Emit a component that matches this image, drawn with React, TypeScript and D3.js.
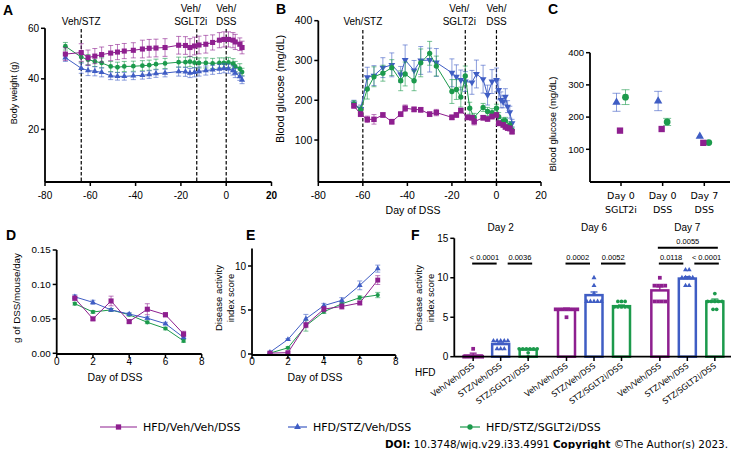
import React from "react";
import * as d3 from "d3";

const ARIAL = "'Liberation Sans', Arial, sans-serif";
const VERD = "'DejaVu Sans', Verdana, sans-serif";
const PURPLE = "#8E1F8F";
const BLUE = "#3F5DC4";
const GREEN = "#1C9A4C";

// ---------- Panel A: body weight ----------
const aDays = [-71, -64, -61, -58, -55, -51, -48, -45, -41, -37, -34, -31, -27, -21, -18, -16, -14, -12, -9, -6, -3, -1, 1, 3, 4, 6, 7];
const aPurple = [49.8, 50.4, 48.4, 49.0, 49.6, 50.2, 50.6, 51.0, 51.3, 51.8, 52.1, 52.2, 52.4, 53.3, 53.2, 52.4, 53.0, 53.4, 53.7, 54.4, 55.3, 55.6, 55.6, 55.3, 54.6, 53.7, 52.4];
const aPurpleSem = [2.5, 3.5, 3, 3, 3, 3, 3, 3, 3, 3.5, 3.5, 3.5, 3.5, 3.5, 3.5, 3.5, 3.5, 3.5, 3.5, 3, 3, 3, 3, 3, 3, 2.5, 2.5];
const aGreen = [52.9, 48.6, 47.6, 46.9, 46.3, 44.9, 44.6, 44.9, 45.0, 45.2, 45.4, 45.8, 46.1, 46.6, 46.6, 46.8, 46.4, 46.3, 46.3, 46.1, 46.3, 46.3, 46.5, 46.0, 44.9, 44.0, 42.7];
const aGreenSem = [1.5, 2, 2, 2, 2, 2, 2, 2, 2, 2, 2, 2, 2, 2, 2, 2, 2, 2, 2, 2, 2, 2, 2, 2, 2, 2, 1.5];
const aBlue = [48.4, 44.2, 43.3, 43.0, 42.6, 41.2, 41.0, 41.0, 41.2, 41.4, 41.7, 42.1, 42.3, 42.9, 42.8, 42.3, 42.6, 42.9, 43.3, 43.6, 43.9, 44.2, 44.0, 43.3, 42.3, 40.9, 39.6];
const aBlueSem = [1.5, 2, 2, 1.8, 1.8, 1.5, 1.5, 1.5, 1.5, 1.5, 1.5, 1.5, 1.5, 1.8, 1.8, 1.8, 1.8, 1.8, 1.8, 1.8, 1.8, 1.8, 1.8, 1.8, 1.8, 1.5, 1.5];
const aXTicks = [-80, -60, -40, -20, 0, 20];
const aYTicks = [20, 40, 60];
const aEventDays = [-64, -13, 0];
const eventLabels = [["Veh/STZ"], ["Veh/", "SGLT2i"], ["Veh/", "DSS"]];

// ---------- Panel B: blood glucose over time ----------
const bPurpleDays = [-64, -61, -58, -55, -51, -47, -43, -41, -37, -34, -30, -27, -20, -18, -16, -13, -11, -10, -6, -4, -2, 0, 1, 3, 4, 5, 6, 7];
const bPurple = [186, 165, 152, 152, 163, 146, 165, 180, 177, 176, 165, 169, 157, 163, 174, 157, 156, 146, 156, 153, 159, 163, 142, 138, 133, 130, 129, 121];
const bPurpleSem = [6, 6, 8, 12, 6, 6, 6, 8, 6, 6, 6, 8, 6, 6, 6, 6, 6, 8, 6, 6, 6, 6, 6, 6, 6, 6, 6, 6];
const bGreenDays = [-64, -61, -58, -55, -51, -47, -43, -41, -37, -34, -30, -27, -20, -18, -16, -14, -12, -10, -6, -4, -2, 0, 1, 3, 4, 6, 7];
const bGreen = [191, 175, 228, 259, 268, 282, 249, 266, 249, 294, 318, 286, 222, 227, 208, 261, 180, 157, 182, 172, 169, 180, 159, 148, 149, 138, 125];
const bGreenSem = [8, 10, 25, 25, 20, 20, 25, 30, 25, 35, 30, 25, 30, 25, 25, 25, 15, 10, 10, 10, 10, 10, 10, 8, 8, 8, 8];
const bBlueDays = [-64, -61, -58, -55, -51, -47, -43, -41, -37, -34, -30, -27, -20, -18, -16, -14, -11, -9, -6, -4, -2, 0, 1, 2, 3, 4, 5, 6, 7];
const bBlue = [192, 178, 258, 262, 282, 289, 265, 301, 275, 300, 301, 295, 269, 259, 251, 247, 245, 266, 253, 213, 247, 251, 226, 201, 196, 209, 184, 170, 142];
const bBlueSem = [8, 10, 25, 25, 25, 30, 20, 38, 25, 35, 30, 35, 35, 30, 25, 25, 30, 35, 35, 25, 30, 30, 25, 20, 15, 20, 15, 15, 10];
const bXTicks = [-80, -60, -40, -20, 0, 20];
const bYTicks = [100, 200, 300, 400];
const bEventDays = [-60, -14, 0];

// ---------- Panel C ----------
const cCats = ["Day 0|SGLT2i", "Day 0|DSS", "Day 7|DSS"];
const cPurple = [158, 163, 120];
const cBlue = [246, 250, 140];
const cBlueSem = [28, 30, 0];
const cGreen = [262, 185, 121];
const cGreenSem = [23, 11, 0];
const cYTicks = [100, 200, 300, 400];

// ---------- Panel D ----------
const dDays = [1, 2, 3, 4, 5, 6, 7];
const dPurple = [0.080, 0.050, 0.076, 0.046, 0.064, 0.056, 0.028];
const dPurpleSem = [0.003, 0.002, 0.007, 0.002, 0.008, 0.003, 0.004];
const dBlue = [0.082, 0.074, 0.063, 0.057, 0.051, 0.043, 0.023];
const dBlueSem = [0.003, 0.003, 0.002, 0.002, 0.002, 0.002, 0.002];
const dGreen = [0.072, 0.060, 0.063, 0.056, 0.045, 0.036, 0.018];
const dGreenSem = [0.002, 0.002, 0.002, 0.002, 0.002, 0.002, 0.002];
const dXTicks = [0, 2, 4, 6, 8];
const dYTicks = [0, 0.05, 0.1, 0.15];

// ---------- Panel E ----------
const eDays = [1, 2, 3, 4, 5, 6, 7];
const ePurple = [0.1, 0.15, 3.3, 5.1, 5.4, 5.8, 8.4];
const ePurpleSem = [0.1, 0.1, 0.3, 0.3, 0.3, 0.2, 0.5];
const eBlue = [0.2, 1.65, 4.0, 5.5, 6.1, 7.8, 9.7];
const eBlueSem = [0.1, 0.1, 0.5, 0.25, 0.3, 0.5, 0.4];
const eGreen = [0.1, 0.7, 3.2, 4.8, 5.7, 6.4, 6.7];
const eGreenSem = [0.1, 0.1, 0.6, 0.2, 0.2, 0.2, 0.3];
const eXTicks = [0, 2, 4, 6, 8];
const eYTicks = [0, 5, 10];

// ---------- Panel F ----------
const fDays = ["Day 2", "Day 6", "Day 7"];
const fGroups = ["Veh/Veh/DSS", "STZ/Veh/DSS", "STZ/SGLT2i/DSS"];
const fMeans = [[0.15, 1.6, 0.9], [6.0, 7.8, 6.4], [8.4, 9.9, 7.0]];
const fSems = [[0.3, 0.15, 0.12], [0.15, 0.4, 0.15], [0.45, 0.25, 0.3]];
const fPoints = [
  [[0, 0, 0, 0, 0, 0, 1], [2, 2, 2, 2, 2, 1, 1, 1], [1, 1, 1, 1, 1, 1, 0.5, 0]],
  [[6, 6, 6, 6, 6, 6, 6, 5], [10, 9, 8, 7, 7, 7, 7, 7], [7, 7, 7, 6.3, 6.3, 6.3, 6.3, 6.3]],
  [[10, 9, 9, 9, 9, 7, 7, 7, 7], [11, 11, 10, 10, 10, 10, 9, 9], [8, 7, 7, 7, 7, 7, 6, 6]],
];
const fSigDay = [0, 0, 1, 1, 2, 2, 2];
const fSigFrom = [0, 1, 0, 1, 0, 1, 0];
const fSigTo = [1, 2, 1, 2, 1, 2, 2];
const fSigLabel = ["< 0.0001", "0.0036", "0.0002", "0.0052", "0.0118", "< 0.0001", "0.0055"];
const fSigLevel = [11.8, 11.8, 11.8, 11.8, 11.8, 11.8, 13.8];
const fYTicks = [0, 5, 10, 15];

// ---------- Legend ----------
const legendLabels = ["HFD/Veh/Veh/DSS", "HFD/STZ/Veh/DSS", "HFD/STZ/SGLT2i/DSS"];

const COLORS = [PURPLE, BLUE, GREEN];
const SHAPES = [d3.symbolSquare, d3.symbolTriangle, d3.symbolCircle];

function sym(type: any, size: number) {
  return d3.symbol().type(type).size(size)() as string;
}

function Series(props: any) {
  const { xs, ys, errs, x, y, color, shape, size, rot = 0, lw = 1, cap = 2.5, errOp = 0.6, dx = 0 } = props;
  const line = d3.line<number>().x((_, i) => x(xs[i]) + dx).y((d) => y(d));
  const p = sym(shape, size);
  return (
    <g>
      <path d={line(ys) || ""} fill="none" stroke={color} strokeWidth={lw} />
      {errs &&
        ys.map((v: number, i: number) =>
          errs[i] > 0 ? (
            <g key={"e" + i} stroke={color} strokeOpacity={errOp} strokeWidth={1}>
              <line x1={x(xs[i]) + dx} x2={x(xs[i]) + dx} y1={y(v - errs[i])} y2={y(v + errs[i])} />
              <line x1={x(xs[i]) + dx - cap} x2={x(xs[i]) + dx + cap} y1={y(v + errs[i])} y2={y(v + errs[i])} />
              <line x1={x(xs[i]) + dx - cap} x2={x(xs[i]) + dx + cap} y1={y(v - errs[i])} y2={y(v - errs[i])} />
            </g>
          ) : null
        )}
      {ys.map((v: number, i: number) => (
        <path key={i} d={p} transform={`translate(${x(xs[i]) + dx},${y(v)}) rotate(${rot})`} fill={color} />
      ))}
    </g>
  );
}

function LeftAxis(props: any) {
  const { x, y, ticks, top, bottom, fmt, fs = 10, font = ARIAL } = props;
  return (
    <g>
      <line x1={x} x2={x} y1={top} y2={bottom} stroke="#000" strokeWidth={1.8} />
      {ticks.map((t: number) => (
        <g key={t}>
          <line x1={x - 4} x2={x} y1={y(t)} y2={y(t)} stroke="#000" strokeWidth={1.5} />
          <text x={x - 6} y={y(t)} dy="0.35em" textAnchor="end" fontSize={fs} fontFamily={font}>
            {fmt ? fmt(t) : t}
          </text>
        </g>
      ))}
    </g>
  );
}

function BottomAxis(props: any) {
  const { x, y0, ticks, left, right, fs = 10, font = ARIAL, labelY, boldLast = false } = props;
  return (
    <g>
      <line x1={left} x2={right} y1={y0} y2={y0} stroke="#000" strokeWidth={1.8} />
      {ticks.map((t: number, i: number) => (
        <g key={t}>
          <line x1={x(t)} x2={x(t)} y1={y0} y2={y0 + 4} stroke="#000" strokeWidth={1.5} />
          <text
            x={x(t)}
            y={labelY}
            textAnchor="middle"
            fontSize={fs}
            fontFamily={font}
            fontWeight={boldLast && i === ticks.length - 1 ? "bold" : "normal"}
          >
            {t}
          </text>
        </g>
      ))}
    </g>
  );
}

function Events(props: any) {
  const { x, days, top, bottom } = props;
  return (
    <g>
      {days.map((d: number, i: number) => {
        const lines = eventLabels[i];
        const dx = i === 1 ? -6 : 0;
        return (
          <g key={d}>
            <line x1={x(d)} x2={x(d)} y1={top} y2={bottom} stroke="#000" strokeWidth={1.2} strokeDasharray="3.5,2" />
            {lines.map((l: string, j: number) => (
              <text key={j} x={x(d) + dx} y={25 - (lines.length - 1 - j) * 13} textAnchor="middle" fontSize={10} fontFamily={ARIAL}>
                {l}
              </text>
            ))}
          </g>
        );
      })}
    </g>
  );
}

function PanelLabel({ x, y, t }: any) {
  return (
    <text x={x} y={y} fontSize={14} fontWeight="bold" fontFamily={ARIAL}>
      {t}
    </text>
  );
}

function RotTitle({ x, y, lines, fs = 10, gap = 12 }: any) {
  return (
    <g>
      {lines.map((l: string, i: number) => (
        <text key={i} transform={`translate(${x + i * gap},${y}) rotate(-90)`} textAnchor="middle" fontSize={fs} fontFamily={ARIAL}>
          {l}
        </text>
      ))}
    </g>
  );
}

function PanelA() {
  const x = d3.scaleLinear().domain([-80, 20]).range([45, 271.5]);
  const y = d3.scaleLinear().domain([0, 60]).range([180, 28.3]);
  return (
    <g>
      <PanelLabel x={3} y={15} t="A" />
      <Events x={x} days={aEventDays} top={29} bottom={182} />
      <Series xs={aDays} ys={aGreen} errs={aGreenSem} x={x} y={y} color={GREEN} shape={d3.symbolCircle} size={18} />
      <Series xs={aDays} ys={aBlue} errs={aBlueSem} x={x} y={y} color={BLUE} shape={d3.symbolTriangle} size={16} />
      <Series xs={aDays} ys={aPurple} errs={aPurpleSem} x={x} y={y} color={PURPLE} shape={d3.symbolSquare} size={26} />
      <LeftAxis x={45} y={y} ticks={aYTicks} top={28.3} bottom={182} />
      <BottomAxis x={x} y0={182} ticks={aXTicks} left={45} right={271.5} labelY={199} boldLast />
      <RotTitle x={17} y={93} lines={["Body weight (g)"]} fs={9} />
    </g>
  );
}

function PanelB() {
  const x = d3.scaleLinear().domain([-80, 20]).range([318.3, 541]);
  const y = d3.scaleLinear().domain([0, 400]).range([179.8, 20.7]);
  return (
    <g>
      <PanelLabel x={276} y={14} t="B" />
      <Events x={x} days={bEventDays} top={30} bottom={182} />
      <Series xs={bBlueDays} ys={bBlue} errs={bBlueSem} x={x} y={y} color={BLUE} shape={d3.symbolTriangle} size={20} rot={180} />
      <Series xs={bGreenDays} ys={bGreen} errs={bGreenSem} x={x} y={y} color={GREEN} shape={d3.symbolCircle} size={22} />
      <Series xs={bPurpleDays} ys={bPurple} errs={bPurpleSem} x={x} y={y} color={PURPLE} shape={d3.symbolSquare} size={30} />
      <LeftAxis x={318.3} y={y} ticks={bYTicks} top={20.7} bottom={182} fs={10.5} />
      <BottomAxis x={x} y0={182} ticks={bXTicks} left={318.3} right={541} labelY={199} fs={10.5} />
      <text x={413} y={214} textAnchor="middle" fontSize={10.5} fontFamily={ARIAL}>
        Day of DSS
      </text>
      <RotTitle x={284} y={89} lines={["Blood glucose (mg/dL)"]} fs={10.8} />
    </g>
  );
}

function PanelC() {
  const x = d3.scalePoint<string>().domain(cCats).range([621, 704.3]);
  const y = d3.scaleLinear().domain([0, 400]).range([181.5, 52.7]);
  const xs = cCats;
  const xf = (c: string) => x(c) as number;
  return (
    <g>
      <PanelLabel x={548} y={14} t="C" />
      <Series xs={xs} ys={cBlue} errs={cBlueSem} x={xf} y={y} color={BLUE} shape={d3.symbolTriangle} size={30} lw={0} dx={-4.5} cap={4} />
      <Series xs={xs} ys={cGreen} errs={cGreenSem} x={xf} y={y} color={GREEN} shape={d3.symbolCircle} size={36} lw={0} dx={4.5} cap={4} />
      <Series xs={xs} ys={cPurple} x={xf} y={y} color={PURPLE} shape={d3.symbolSquare} size={40} lw={0} dx={-1} />
      <LeftAxis x={590} y={y} ticks={cYTicks} top={52.7} bottom={182} fs={9.5} />
      <line x1={590} x2={730} y1={182} y2={182} stroke="#000" strokeWidth={1.8} />
      {cCats.map((c) => (
        <g key={c}>
          <line x1={xf(c)} x2={xf(c)} y1={182} y2={186} stroke="#000" strokeWidth={1.5} />
          {c.split("|").map((t, j) => (
            <text key={j} x={xf(c)} y={199 + j * 14} textAnchor="middle" fontSize={9.5} fontFamily={VERD}>
              {t}
            </text>
          ))}
        </g>
      ))}
      <RotTitle x={556} y={124} lines={["Blood glucose (mg/dL)"]} fs={9.5} />
    </g>
  );
}

function PanelD() {
  const x = d3.scaleLinear().domain([0, 8]).range([56.7, 201.7]);
  const y = d3.scaleLinear().domain([0, 0.15]).range([353.3, 250]);
  return (
    <g>
      <PanelLabel x={6} y={240} t="D" />
      <Series xs={dDays} ys={dGreen} errs={dGreenSem} x={x} y={y} color={GREEN} shape={d3.symbolCircle} size={14} />
      <Series xs={dDays} ys={dBlue} errs={dBlueSem} x={x} y={y} color={BLUE} shape={d3.symbolTriangle} size={14} />
      <Series xs={dDays} ys={dPurple} errs={dPurpleSem} x={x} y={y} color={PURPLE} shape={d3.symbolSquare} size={26} />
      <LeftAxis x={56.7} y={y} ticks={dYTicks} top={250} bottom={354} fmt={(t: number) => t.toFixed(2)} fs={9.8} />
      <BottomAxis x={x} y0={354} ticks={dXTicks} left={56.7} right={201.7} labelY={364.5} fs={10} />
      <text x={115} y={381} textAnchor="middle" fontSize={10.5} fontFamily={ARIAL}>
        Day of DSS
      </text>
      <RotTitle x={20} y={298} lines={["g of DSS/mouse/day"]} fs={9.8} />
    </g>
  );
}

function PanelE() {
  const x = d3.scaleLinear().domain([0, 8]).range([252, 395.7]);
  const y = d3.scaleLinear().domain([0, 12]).range([354, 248.4]);
  return (
    <g>
      <PanelLabel x={246} y={240} t="E" />
      <Series xs={eDays} ys={eGreen} errs={eGreenSem} x={x} y={y} color={GREEN} shape={d3.symbolCircle} size={14} />
      <Series xs={eDays} ys={eBlue} errs={eBlueSem} x={x} y={y} color={BLUE} shape={d3.symbolTriangle} size={14} />
      <Series xs={eDays} ys={ePurple} errs={ePurpleSem} x={x} y={y} color={PURPLE} shape={d3.symbolSquare} size={24} />
      <LeftAxis x={252} y={y} ticks={eYTicks} top={248.4} bottom={355} fs={10} />
      <BottomAxis x={x} y0={355} ticks={eXTicks} left={252} right={395.7} labelY={365} fs={10} />
      <text x={315} y={381} textAnchor="middle" fontSize={10.5} fontFamily={ARIAL}>
        Day of DSS
      </text>
      <RotTitle x={221.5} y={298} lines={["Disease activity", "index score"]} fs={9.5} gap={12} />
    </g>
  );
}

function PanelF() {
  const y = d3.scaleLinear().domain([0, 15]).range([356.7, 238.3]);
  const outer = d3.scaleBand<string>().domain(fDays).range([454, 734]);
  const inner = d3.scalePoint<string>().domain(fGroups).range([-27.5, 27.5]);
  const cx = (d: number, g: number) => (outer(fDays[d]) as number) + outer.bandwidth() / 2 + (inner(fGroups[g]) as number);
  const bw = 17;
  return (
    <g>
      <PanelLabel x={411} y={240} t="F" />
      {fDays.map((day, d) => (
        <text key={day} x={cx(d, 1)} y={231} textAnchor="middle" fontSize={10} fontFamily={ARIAL}>
          {day}
        </text>
      ))}
      {fDays.map((day, d) =>
        fGroups.map((g, gi) => {
          const c = cx(d, gi);
          const m = fMeans[d][gi];
          const s = fSems[d][gi];
          const pts = fPoints[d][gi];
          const counts = d3.rollup(pts, (v) => v.length, (v) => v);
          const seen = new Map<number, number>();
          const p = sym(SHAPES[gi], gi === 0 ? 14 : 11);
          return (
            <g key={day + g}>
              <rect x={c - bw / 2} y={y(m)} width={bw} height={Math.max(0, y(0) - y(m))} fill="#fff" stroke={COLORS[gi]} strokeWidth={2.5} />
              <line x1={c} x2={c} y1={y(m)} y2={y(m + s)} stroke={COLORS[gi]} strokeWidth={1.3} />
              <line x1={c - 3.5} x2={c + 3.5} y1={y(m + s)} y2={y(m + s)} stroke={COLORS[gi]} strokeWidth={1.3} />
              {pts.map((v, k) => {
                const n = counts.get(v) || 1;
                const j = seen.get(v) || 0;
                seen.set(v, j + 1);
                const off = (j - (n - 1) / 2) * 3.6;
                return <path key={k} d={p} transform={`translate(${c + off},${y(v)})`} fill={COLORS[gi]} />;
              })}
            </g>
          );
        })
      )}
      {fSigLabel.map((lab, i) => {
        const a = cx(fSigDay[i], fSigFrom[i]);
        const b = cx(fSigDay[i], fSigTo[i]);
        let x1 = a - 1, x2 = b - 4;
        if (fSigFrom[i] === 1) {
          x1 = a + 7;
          x2 = b + 4;
        }
        if (fSigTo[i] - fSigFrom[i] === 2) {
          x1 = a - 2;
          x2 = b + 3;
        }
        const yy = y(fSigLevel[i]);
        return (
          <g key={i}>
            <line x1={x1} x2={x2} y1={yy} y2={yy} stroke="#000" strokeWidth={2} />
            <text x={(x1 + x2) / 2} y={yy - 4} textAnchor="middle" fontSize={7.5} fontFamily={ARIAL}>
              {lab}
            </text>
          </g>
        );
      })}
      <LeftAxis x={454.3} y={y} ticks={fYTicks} top={238.3} bottom={357} fs={10} />
      <line x1={454.3} x2={731} y1={356.7} y2={356.7} stroke="#000" strokeWidth={1.8} />
      {fDays.map((day, d) =>
        fGroups.map((g, gi) => {
          const c = cx(d, gi);
          return (
            <g key={"t" + day + g}>
              <line x1={c} x2={c} y1={356.7} y2={361} stroke="#000" strokeWidth={1.5} />
              <text transform={`translate(${c + 2},${367}) rotate(-36)`} textAnchor="end" fontSize={8} fontFamily={VERD}>
                {g}
              </text>
            </g>
          );
        })
      )}
      <text x={415} y={376} fontSize={10} fontFamily={ARIAL}>
        HFD
      </text>
      <RotTitle x={421.5} y={298} lines={["Disease activity", "index score"]} fs={9.5} gap={12} />
    </g>
  );
}

function Legend() {
  const xs = [100, 288, 460];
  const lens = [37, 19, 20];
  const sizes = [28, 20, 22];
  return (
    <g>
      {legendLabels.map((l, i) => (
        <g key={l}>
          <line x1={xs[i]} x2={xs[i] + lens[i]} y1={427} y2={427} stroke={COLORS[i]} strokeWidth={1.2} />
          <path d={sym(SHAPES[i], sizes[i])} transform={`translate(${xs[i] + lens[i] / 2},427)`} fill={COLORS[i]} />
          <text x={xs[i] + lens[i] + 6} y={431} fontSize={11} fontFamily={VERD}>
            {l}
          </text>
        </g>
      ))}
      <text x={385} y={448} fontSize={10} fontFamily={VERD} textLength={343} lengthAdjust="spacingAndGlyphs">
        <tspan fontWeight="bold">DOI:</tspan>
        <tspan> 10.3748/wjg.v29.i33.4991 </tspan>
        <tspan fontWeight="bold"> Copyright</tspan>
        <tspan> ©The Author(s) 2023.</tspan>
      </text>
    </g>
  );
}

export default function App() {
  return (
    <svg
      width={734}
      height={449}
      style={{ position: "absolute", left: 0, top: 0, background: "#fff" }}
      xmlns="http://www.w3.org/2000/svg"
    >
      <rect width={734} height={449} fill="#fff" />
      <PanelA />
      <PanelB />
      <PanelC />
      <PanelD />
      <PanelE />
      <PanelF />
      <Legend />
    </svg>
  );
}
